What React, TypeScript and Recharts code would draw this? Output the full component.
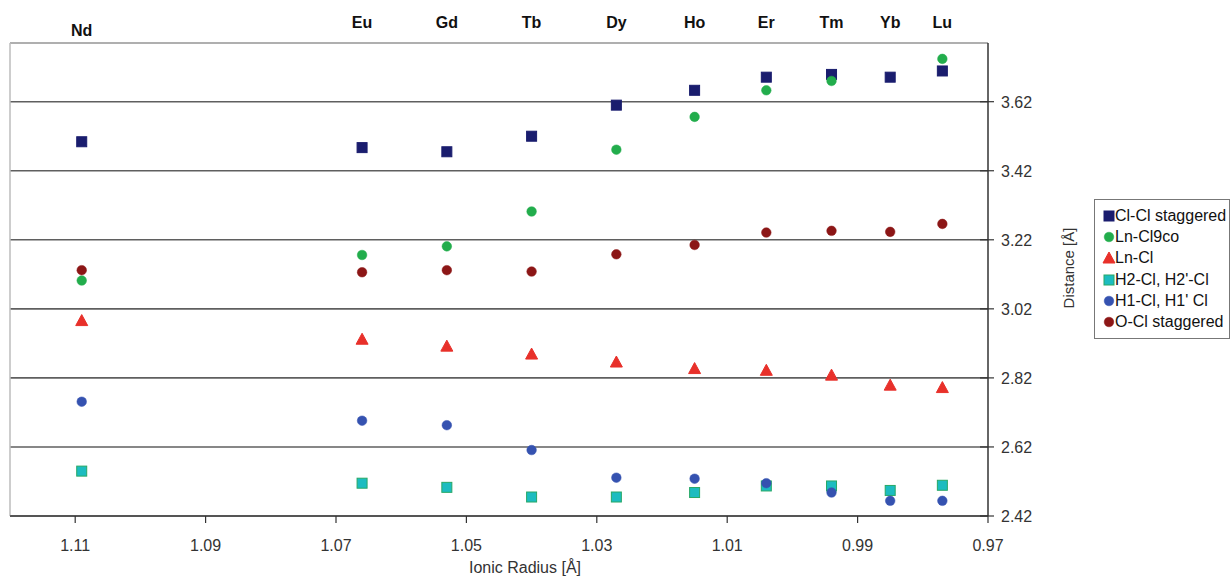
import {
  ScatterChart,
  Scatter,
  XAxis,
  YAxis,
  CartesianGrid,
  ReferenceLine,
} from "recharts";

// Lanthanide series (top labels) and their ionic radii [Å]
const elements = ["Nd", "Eu", "Gd", "Tb", "Dy", "Ho", "Er", "Tm", "Yb", "Lu"];
const ionicRadius = [1.109, 1.066, 1.053, 1.04, 1.027, 1.015, 1.004, 0.994, 0.985, 0.977];

// Distances [Å] per series, one value per element (null = not shown)
const clClStaggered = [3.504, 3.487, 3.475, 3.52, 3.61, 3.653, 3.691, 3.699, 3.691, 3.709];
const lnCl9co = [3.102, 3.176, 3.201, 3.302, 3.481, 3.576, 3.653, 3.68, null, 3.744];
const lnCl = [2.986, 2.932, 2.912, 2.889, 2.866, 2.847, 2.842, 2.828, 2.799, 2.792];
const h2Cl = [2.55, 2.515, 2.503, 2.475, 2.475, 2.488, 2.507, 2.507, 2.494, 2.509];
const h1Cl = [2.751, 2.696, 2.683, 2.611, 2.531, 2.528, 2.515, 2.488, 2.464, 2.464];
const oClStaggered = [3.132, 3.126, 3.132, 3.128, 3.178, 3.205, 3.241, 3.246, 3.243, 3.266];

const xTicks = [1.11, 1.09, 1.07, 1.05, 1.03, 1.01, 0.99, 0.97];
const yTicks = [2.42, 2.62, 2.82, 3.02, 3.22, 3.42, 3.62];

const NARROW = "'Liberation Sans Narrow', 'Arial Narrow', Arial, sans-serif";
const SANS = "'Liberation Sans', Arial, sans-serif";

type Marker = "square" | "circle" | "triangle";

const series: { name: string; values: (number | null)[]; marker: Marker; fill: string; stroke: string }[] = [
  { name: "Cl-Cl staggered", values: clClStaggered, marker: "square", fill: "#1a1d6e", stroke: "#1a1d6e" },
  { name: "Ln-Cl9co", values: lnCl9co, marker: "circle", fill: "#22ad4c", stroke: "#22ad4c" },
  { name: "Ln-Cl", values: lnCl, marker: "triangle", fill: "#e8302a", stroke: "#e8302a" },
  { name: "H2-Cl, H2'-Cl", values: h2Cl, marker: "square", fill: "#1cbcc0", stroke: "#27a866" },
  { name: "H1-Cl, H1' Cl", values: h1Cl, marker: "circle", fill: "#3552b0", stroke: "#3552b0" },
  { name: "O-Cl staggered", values: oClStaggered, marker: "circle", fill: "#8c1616", stroke: "#8c1616" },
];

function MarkerGlyph({ marker, fill, stroke, cx, cy }: { marker: Marker; fill: string; stroke: string; cx: number; cy: number }) {
  if (marker === "square") {
    return <rect x={cx - 5} y={cy - 5} width={10} height={10} fill={fill} stroke={stroke} strokeWidth={1} />;
  }
  if (marker === "triangle") {
    return <polygon points={`${cx},${cy - 6} ${cx + 6},${cy + 5} ${cx - 6},${cy + 5}`} fill={fill} stroke={stroke} />;
  }
  return <circle cx={cx} cy={cy} r={4.8} fill={fill} stroke={stroke} strokeWidth={0.5} />;
}

function XTick({ x, y, payload }: any) {
  return (
    <g>
      <line x1={x} y1={y} x2={x} y2={y + 7} stroke="#333" strokeWidth={1.2} />
      <text x={x} y={y + 35} textAnchor="middle" fontFamily={NARROW} fontSize={16} fill="#333">
        {payload.value.toFixed(2)}
      </text>
    </g>
  );
}

function YTick({ x, y, payload }: any) {
  return (
    <g>
      <line x1={x - 8} y1={y} x2={x + 6} y2={y} stroke="#333" strokeWidth={1.2} />
      <text x={x + 13} y={y + 6} textAnchor="start" fontFamily={SANS} fontSize={16} fill="#333">
        {payload.value.toFixed(2)}
      </text>
    </g>
  );
}

function ElementTick({ x, y, index }: any) {
  // Nd label sits a little lower than the others
  const dy = index === 0 ? -7 : -15;
  return (
    <text x={x} y={y + dy} textAnchor="middle" fontFamily={NARROW} fontWeight="bold" fontSize={16} fill="#111">
      {elements[index]}
    </text>
  );
}

function ChartLegend() {
  return (
    <div
      style={{
        position: "absolute",
        left: 1094,
        top: 199,
        width: 136,
        height: 140,
        border: "1px solid #777",
        background: "#fff",
        boxSizing: "border-box",
        paddingTop: 5,
      }}
    >
      {series.map((s) => (
        <div key={s.name} style={{ display: "flex", alignItems: "center", height: 21.3 }}>
          <svg width={18} height={14} style={{ marginLeft: 6 }}>
            <MarkerGlyph marker={s.marker} fill={s.fill} stroke={s.stroke} cx={8} cy={7} />
          </svg>
          <span style={{ fontFamily: SANS, fontSize: 16, color: "#111", whiteSpace: "nowrap", marginLeft: -4 }}>
            {s.name}
          </span>
        </div>
      ))}
    </div>
  );
}

export default function App() {
  return (
    <div style={{ position: "absolute", left: 0, top: 0, width: 1232, height: 578, background: "#fff" }}>
      <ScatterChart width={1232} height={578} margin={{ top: 0, right: 184, bottom: 22, left: 10 }}>
        <CartesianGrid xAxisId="b" yAxisId="y" horizontal vertical={false} stroke="#5f5f5f" strokeWidth={1.6} />
        <XAxis
          xAxisId="t"
          orientation="top"
          type="number"
          dataKey="x"
          domain={[0.97, 1.12]}
          allowDataOverflow
          reversed
          ticks={ionicRadius}
          interval={0}
          height={43}
          axisLine={false}
          tickLine={false}
          tickSize={0}
          tickMargin={0}
          tick={<ElementTick />}
        />
        <XAxis
          xAxisId="b"
          type="number"
          dataKey="x"
          domain={[0.97, 1.12]}
          allowDataOverflow
          reversed
          ticks={xTicks}
          interval={0}
          height={40}
          axisLine={{ stroke: "#444", strokeWidth: 1.5 }}
          tickLine={false}
          tickSize={0}
          tickMargin={0}
          tick={<XTick />}
          label={{
            content: ({ viewBox }: any) => (
              <text
                x={viewBox.x + viewBox.width / 2 + 26}
                y={viewBox.y + 57}
                textAnchor="middle"
                fontFamily={NARROW}
                fontSize={16}
                fill="#333"
              >
                Ionic Radius [Å]
              </text>
            ),
          }}
        />
        <YAxis
          yAxisId="y"
          orientation="right"
          type="number"
          dataKey="y"
          domain={[2.42, 3.79]}
          allowDataOverflow
          ticks={yTicks}
          interval={0}
          width={60}
          axisLine={{ stroke: "#333", strokeWidth: 1.5 }}
          tickLine={false}
          tickSize={0}
          tickMargin={0}
          tick={<YTick />}
        />
        <ReferenceLine xAxisId="b" yAxisId="y" y={3.79} stroke="#bdbdbd" strokeWidth={1.5} />
        <ReferenceLine xAxisId="b" yAxisId="y" x={1.12} stroke="#bdbdbd" strokeWidth={1.5} />
        {series.map((s) => (
          <Scatter
            key={s.name}
            name={s.name}
            xAxisId="b"
            yAxisId="y"
            isAnimationActive={false}
            data={ionicRadius
              .map((r, i) => ({ x: r, y: s.values[i] }))
              .filter((d) => d.y !== null)}
            shape={(p: any) => <MarkerGlyph marker={s.marker} fill={s.fill} stroke={s.stroke} cx={p.cx} cy={p.cy} />}
          />
        ))}
      </ScatterChart>
      <div
        style={{
          position: "absolute",
          left: 1068,
          top: 268,
          transform: "translate(-50%, -50%) rotate(-90deg)",
          fontFamily: SANS,
          fontSize: 15,
          color: "#333",
          whiteSpace: "nowrap",
        }}
      >
        Distance [Å]
      </div>
      <ChartLegend />
    </div>
  );
}
